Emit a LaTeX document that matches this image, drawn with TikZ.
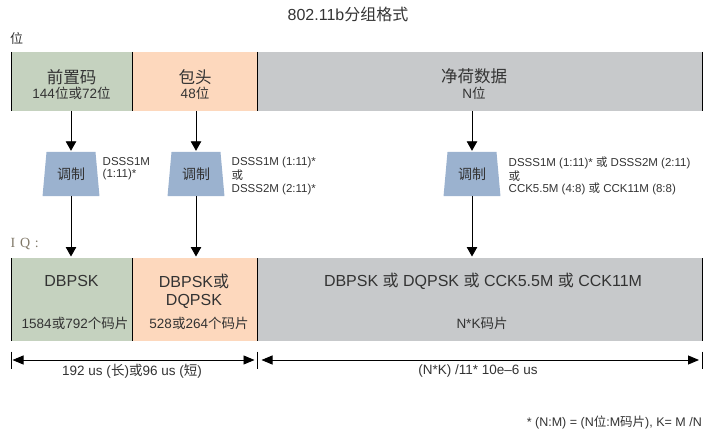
\documentclass[tikz,border=0pt]{standalone}
\usepackage{fontspec}
\setmainfont{Liberation Sans}
\newfontfamily\cjk{Noto Sans CJK SC}
\newfontfamily\iqfont{Liberation Serif}
\newcommand{\zh}[1]{{\cjk #1}}
\newcommand{\fs}[1]{\fontsize{#1}{#1}\selectfont}
\usetikzlibrary{arrows.meta,shapes.geometric}

\definecolor{preamb}{HTML}{C5D2BF}
\definecolor{header}{HTML}{FDD8BD}
\definecolor{payload}{HTML}{C7C9CB}
\definecolor{modblue}{HTML}{9BB2CF}
\definecolor{txt}{HTML}{333333}
\definecolor{iqgray}{HTML}{807868}

\tikzset{
  field/.style={anchor=north west,inner sep=0pt,outer sep=0pt,minimum height=#1},
  modbox/.style={trapezium,trapezium stretches=true,trapezium angle=80,
    minimum width=57pt,minimum height=44pt,inner sep=0pt,fill=modblue,
    text=txt,font=\cjk\fs{14}},
  lab/.style={inner sep=0pt,text=txt,align=left,font=\fs{11.5},anchor=west},
  txt/.style={inner sep=0pt,text=txt,align=center},
  arr/.style={line width=0.9pt,-{Triangle[width=10.5pt,length=9.5pt]}},
  dimarr/.style={line width=0.9pt,{Triangle[width=9pt,length=11pt]}-{Triangle[width=9pt,length=11pt]}}
}

\begin{document}
\begin{tikzpicture}[x=1pt,y=-1pt]
  \useasboundingbox (0,0) rectangle (720,441);
  \node[txt,font=\fs{16}] (title) at (348,14.5) {802.11b\zh{分组格式}};
  \node[txt,font=\cjk\fs{13}] (bit) at (16.5,39) {位};
  \node[inner sep=0pt,anchor=west,text=iqgray,font=\iqfont\fs{14}] (iq) at (10.5,244) {I\,\,Q\,\,:};

  % top row: bits
  \node[field=59pt,fill=preamb,minimum width=121pt] (pre) at (11,52) {};
  \node[field=59pt,fill=header,minimum width=125pt] (hdr) at (132,52) {};
  \node[field=59pt,fill=payload,minimum width=445pt] (pay) at (257,52) {};
  % bottom row: IQ
  \node[field=83pt,fill=preamb,minimum width=121pt] (ipre) at (11,258) {};
  \node[field=83pt,fill=header,minimum width=125pt] (ihdr) at (132,258) {};
  \node[field=83pt,fill=payload,minimum width=445pt] (ipay) at (257,258) {};
  \foreach \n in {pre,hdr,pay,ipre,ihdr,ipay}
    \draw[line width=0.9pt] (\n.north west) -- (\n.south west);
  \foreach \n in {pay,ipay}
    \draw[line width=0.9pt] (\n.north east) -- (\n.south east);

  \node[txt,font=\cjk\fs{16.5}] (preT) at (71.5,77) {前置码};
  \node[txt,font=\fs{13.5}] (preB) at (71.5,93) {144\zh{位或}72\zh{位}};
  \node[txt,font=\cjk\fs{16.5}] (hdrT) at (195,77) {包头};
  \node[txt,font=\fs{13.5}] (hdrB) at (195,93) {48\zh{位}};
  \node[txt,font=\cjk\fs{16.5}] (payT) at (474,76) {净荷数据};
  \node[txt,font=\fs{13.5}] (payB) at (474,93) {N\zh{位}};

  % modulators
  \node[modbox] (m1) at (71,174) {调制};
  \node[modbox] (m2) at (196,174) {调制};
  \node[modbox] (m3) at (472,174) {调制};
  \node[lab] (l1) at (102.5,168.5) {DSSS1M\\[1pt](1:11)*};
  \node[lab] (l2) at (231.5,176) {DSSS1M (1:11)*\\[1pt]\zh{或}\\[1pt]DSSS2M (2:11)*};
  \node[lab] (l3) at (508.5,176) {DSSS1M (1:11)* \zh{或} DSSS2M (2:11)\\[1pt]\zh{或}\\[1pt]CCK5.5M (4:8) \zh{或} CCK11M (8:8)};
  \foreach \m/\a/\b in {m1/pre/ipre,m2/hdr/ihdr,m3/pay/ipay} {
    \draw[arr] (\m.north |- \a.south) -- ([yshift=1pt]\m.north);
    \draw[arr] (\m.south) -- ([yshift=1.5pt]\m.south |- \b.north);
  }

  \node[txt,font=\fs{16}] (ipreT) at (71.5,281) {DBPSK};
  \node[txt,font=\fs{13.5}] (ipreB) at (75,323) {1584\zh{或}792\zh{个码片}};
  \node[txt,font=\fs{16}] (ihdrT) at (194,291) {DBPSK\zh{或}\\[2pt]DQPSK};
  \node[txt,font=\fs{13.5}] (ihdrB) at (199,323) {528\zh{或}264\zh{个码片}};
  \node[txt,font=\fs{16}] (ipayT) at (483,281) {DBPSK \zh{或} DQPSK \zh{或} CCK5.5M \zh{或} CCK11M};
  \node[txt,font=\fs{13.5}] (ipayB) at (482,323) {N*K\zh{码片}};

  % durations
  \coordinate (t0) at (11,360);
  \coordinate (t1) at (257,360);
  \coordinate (t2) at (702,360);
  \foreach \c in {t0,t1,t2}
    \draw[line width=0.9pt] ([yshift=8.5pt]\c) -- ([yshift=-9pt]\c);
  \draw[dimarr] ([xshift=1.5pt]t0) -- ([xshift=-2.5pt]t1);
  \draw[dimarr] ([xshift=4.5pt]t1) -- ([xshift=-3pt]t2);
  \node[txt,font=\fs{13.5}] (d1) at (132,371) {192 us (\zh{长})\zh{或}96 us (\zh{短})};
  \node[txt,font=\fs{13.5}] (d2) at (478,371) {(N*K) /11* 10e\textendash6 us};

  \node[txt,anchor=east,font=\fs{12.5}] (note) at (702,422) {* (N:M) = (N\zh{位}:M\zh{码片}), K= M /N};
\end{tikzpicture}
\end{document}
